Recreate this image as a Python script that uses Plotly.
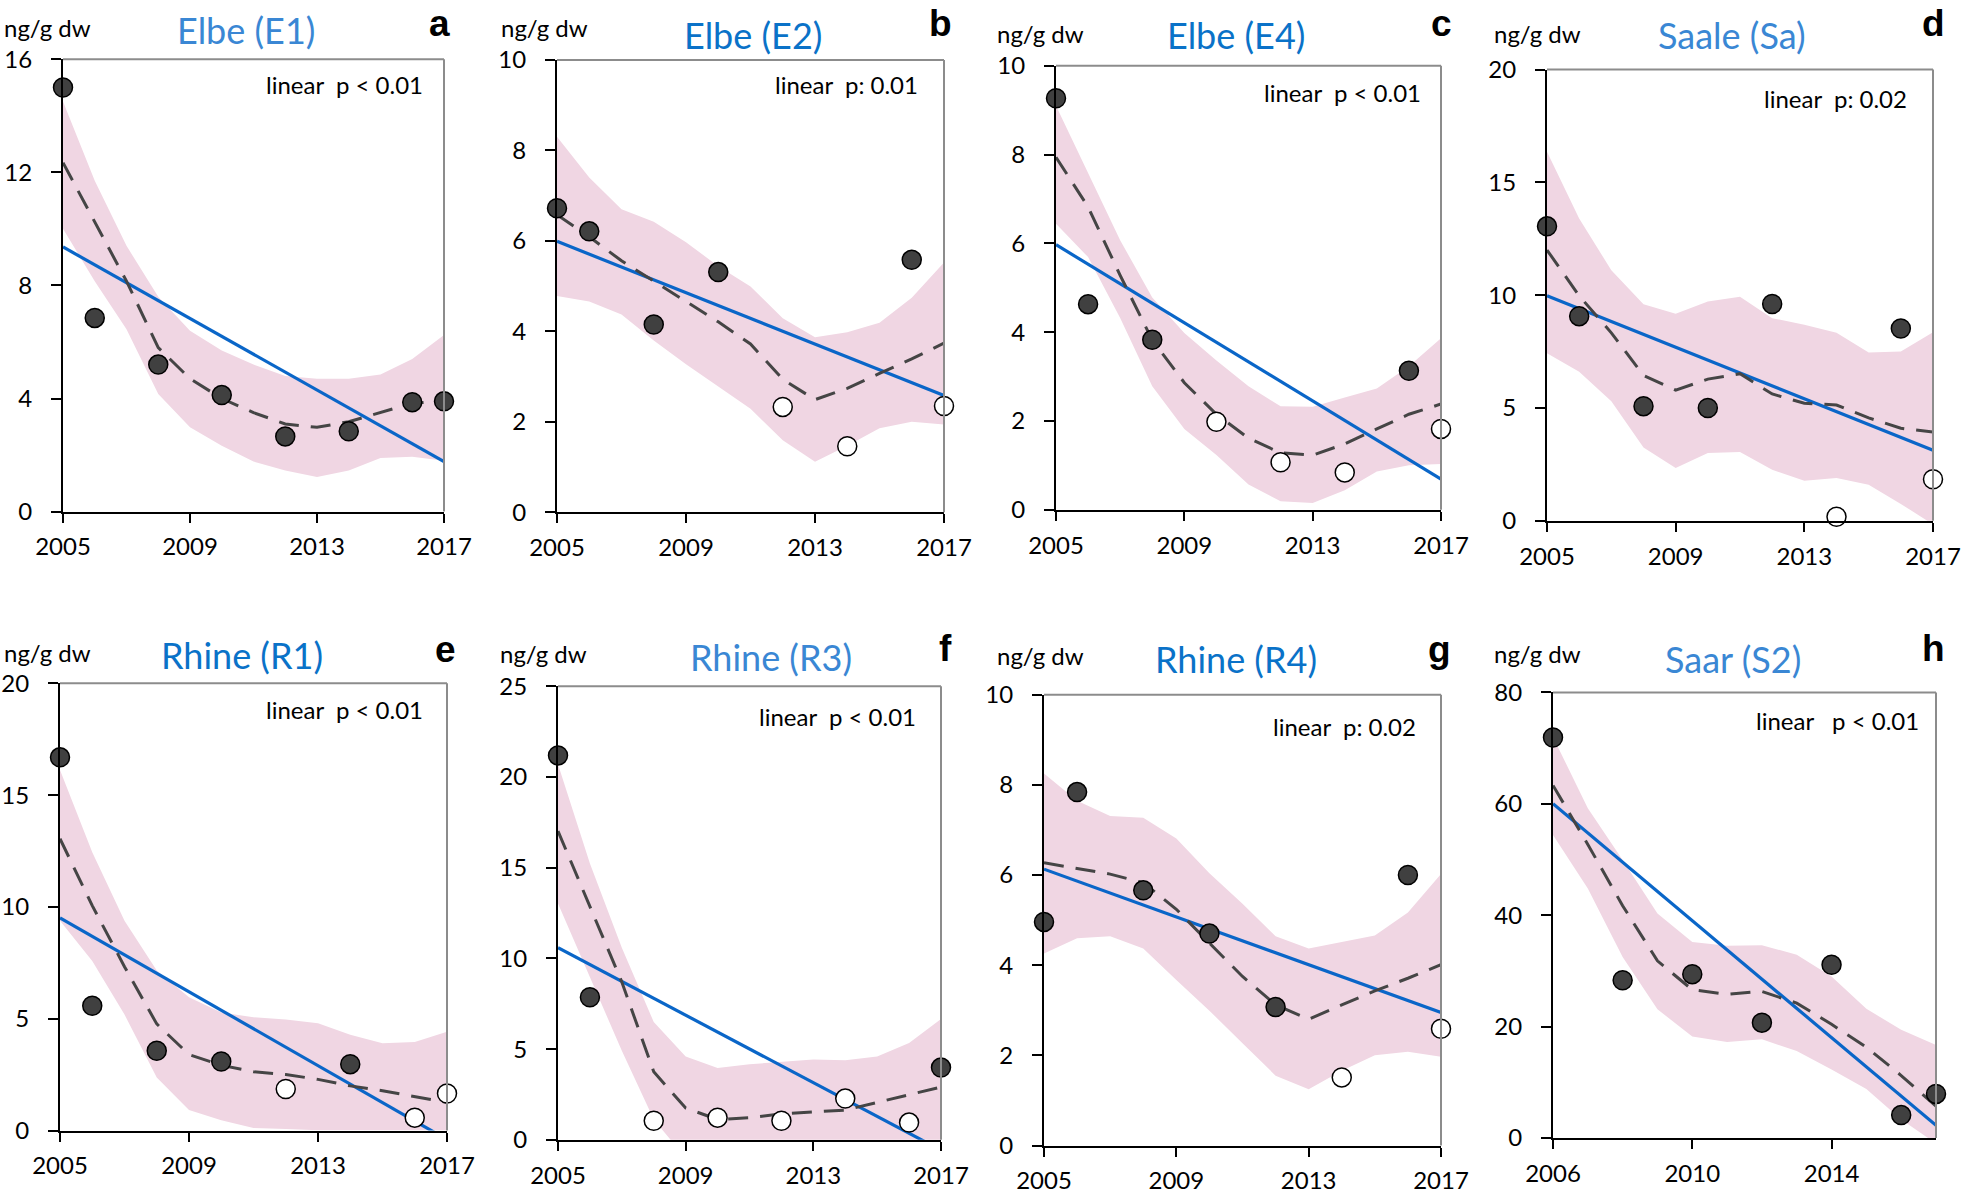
import plotly.graph_objects as go

W, H = 1961, 1199
FONT = "Lato"

# ---------------- data ----------------
years_05 = [2005, 2006, 2007, 2008, 2009, 2010, 2011, 2012, 2013, 2014, 2015, 2016, 2017]
years_06 = [2006, 2007, 2008, 2009, 2010, 2011, 2012, 2013, 2014, 2015, 2016, 2017]
obs_years_05 = [2005, 2006, 2008, 2010, 2012, 2014, 2016, 2017]
obs_years_06 = [2006, 2008, 2010, 2012, 2014, 2016, 2017]

titles = ["Elbe (E1)", "Elbe (E2)", "Elbe (E4)", "Saale (Sa)",
          "Rhine (R1)", "Rhine (R3)", "Rhine (R4)", "Saar (S2)"]
letters = ["a", "b", "c", "d", "e", "f", "g", "h"]
ptext = ["linear\u00a0\u00a0p < 0.01", "linear\u00a0\u00a0p: 0.01", "linear\u00a0\u00a0p < 0.01",
         "linear\u00a0\u00a0p: 0.02", "linear\u00a0\u00a0p < 0.01", "linear\u00a0\u00a0p < 0.01",
         "linear\u00a0\u00a0p: 0.02", "linear\u00a0\u00a0\u00a0p < 0.01"]

# observed values (True = detected / filled, False = below LOQ / open)
obs_a = [15.0, 6.85, 5.2, 4.12, 2.66, 2.84, 3.87, 3.9]
det_a = [True, True, True, True, True, True, True, True]
obs_b = [6.72, 6.21, 4.15, 5.31, 2.33, 1.46, 5.58, 2.35]
det_b = [True, True, True, True, False, False, True, False]
obs_c = [9.27, 4.63, 3.83, 1.98, 1.07, 0.84, 3.13, 1.82]
det_c = [True, True, True, False, False, False, True, False]
obs_d = [13.05, 9.07, 5.08, 5.0, 9.61, 0.18, 8.52, 1.84]
det_d = [True, True, True, True, True, False, True, False]
obs_e = [16.69, 5.58, 3.57, 3.09, 1.86, 2.97, 0.58, 1.66]
det_e = [True, True, True, True, False, True, False, False]
obs_f = [21.19, 7.86, 1.05, 1.22, 1.05, 2.27, 0.95, 3.98]
det_f = [True, True, False, False, False, False, False, True]
obs_g = [4.96, 7.84, 5.66, 4.7, 3.07, 1.51, 6.0, 2.59]
det_g = [True, True, True, True, True, False, True, False]
obs_h = [71.9, 28.3, 29.4, 20.7, 31.1, 4.1, 7.9]
det_h = [True, True, True, True, True, True, True]

# smoothed trend (dashed) and its confidence band
smooth_a = [12.34, 10.25, 8.15, 5.8, 4.7, 4.0, 3.5, 3.1, 2.98, 3.18, 3.5, 3.83, 3.9]
upper_a = [14.5, 11.7, 9.4, 7.6, 6.4, 5.7, 5.2, 4.8, 4.7, 4.7, 4.85, 5.4, 6.25]
lower_a = [10.0, 8.15, 6.45, 4.16, 2.98, 2.33, 1.77, 1.45, 1.22, 1.45, 1.9, 1.94, 1.8]

smooth_b = [6.58, 6.09, 5.56, 5.11, 4.66, 4.21, 3.72, 2.94, 2.49, 2.74, 3.07, 3.39, 3.74]
upper_b = [8.3, 7.4, 6.7, 6.42, 5.97, 5.44, 4.99, 4.29, 3.87, 3.98, 4.19, 4.74, 5.52]
lower_b = [4.78, 4.66, 4.37, 3.8, 3.27, 2.78, 2.29, 1.59, 1.12, 1.47, 1.86, 2.0, 1.94]

smooth_c = [7.94, 6.82, 5.28, 3.82, 2.86, 2.15, 1.61, 1.28, 1.23, 1.48, 1.82, 2.15, 2.38]
upper_c = [9.1, 7.57, 6.07, 4.78, 3.98, 3.36, 2.78, 2.33, 2.32, 2.53, 2.73, 3.23, 3.86]
lower_c = [6.44, 5.69, 4.32, 2.78, 1.82, 1.23, 0.57, 0.19, 0.15, 0.44, 0.86, 1.0, 1.03]

smooth_d = [12.0, 9.97, 8.33, 6.44, 5.79, 6.28, 6.52, 5.62, 5.21, 5.13, 4.56, 4.1, 3.93]
upper_d = [16.36, 13.4, 11.1, 9.6, 9.18, 9.72, 9.93, 8.98, 8.69, 8.33, 7.46, 7.5, 8.36]
lower_d = [7.43, 6.61, 5.3, 3.25, 2.34, 3.0, 3.05, 2.26, 1.77, 1.9, 1.6, 0.75, -0.16]

smooth_e = [13.05, 10.06, 7.33, 4.77, 3.4, 2.92, 2.63, 2.51, 2.29, 2.0, 1.78, 1.52, 1.26]
upper_e = [16.12, 12.45, 9.38, 7.16, 5.96, 5.28, 5.07, 4.97, 4.8, 4.29, 3.91, 3.96, 4.42]
lower_e = [9.38, 7.58, 5.19, 2.37, 0.92, 0.46, 0.12, 0.07, 0.02, 0.0, 0.0, 0.0, 0.0]

smooth_f = [17.02, 12.91, 8.7, 3.75, 1.75, 1.12, 1.22, 1.43, 1.54, 1.64, 2.06, 2.49, 2.91]
upper_f = [20.7, 15.23, 10.59, 6.49, 4.59, 3.96, 4.17, 4.28, 4.42, 4.38, 4.59, 5.33, 6.66]
lower_f = [13.02, 9.01, 4.91, 1.12, -1.0, -0.5, -0.5, -0.5, -0.5, -0.5, -0.5, -0.5, -0.5]

smooth_g = [6.27, 6.15, 6.02, 5.83, 5.24, 4.49, 3.75, 3.12, 2.8, 3.12, 3.43, 3.71, 4.01]
upper_g = [8.25, 7.65, 7.31, 7.27, 6.81, 6.04, 5.36, 4.64, 4.37, 4.52, 4.66, 5.17, 6.02]
lower_g = [4.26, 4.6, 4.64, 4.37, 3.67, 2.99, 2.27, 1.55, 1.25, 1.66, 2.0, 2.08, 1.97]

smooth_h = [63.3, 52.7, 41.7, 31.8, 26.6, 25.8, 26.3, 24.2, 20.4, 16.3, 11.2, 5.7]
upper_h = [72.0, 59.2, 49.9, 40.3, 35.2, 34.5, 34.6, 32.9, 29.0, 23.2, 19.4, 16.7]
lower_h = [54.4, 44.8, 32.5, 23.1, 18.2, 17.2, 17.7, 15.6, 12.3, 8.8, 3.3, -1.0]

# linear regression line end points (first year, last year)
lin_a = [9.36, 1.77]
lin_b = [5.99, 2.58]
lin_c = [5.97, 0.69]
lin_d = [9.97, 3.13]
lin_e = [9.51, -0.40]
lin_f = [10.59, -0.57]
lin_g = [6.13, 2.95]
lin_h = [60.0, 2.26]

y_max = [16, 10, 10, 20, 20, 25, 10, 80]
y_dtick = [4, 2, 2, 5, 5, 5, 2, 20]
x_ticks_05 = [2005, 2009, 2013, 2017]
x_ticks_06 = [2006, 2010, 2014]

panels = [
    (obs_a, det_a, smooth_a, upper_a, lower_a, lin_a),
    (obs_b, det_b, smooth_b, upper_b, lower_b, lin_b),
    (obs_c, det_c, smooth_c, upper_c, lower_c, lin_c),
    (obs_d, det_d, smooth_d, upper_d, lower_d, lin_d),
    (obs_e, det_e, smooth_e, upper_e, lower_e, lin_e),
    (obs_f, det_f, smooth_f, upper_f, lower_f, lin_f),
    (obs_g, det_g, smooth_g, upper_g, lower_g, lin_g),
    (obs_h, det_h, smooth_h, upper_h, lower_h, lin_h),
]

# ---------------- layout geometry (pixel boxes of plot areas) ----------------
boxes = [
    (63, 444, 59.2, 511.6), (557, 944, 59.9, 512.3), (1056, 1441, 65.8, 509.7), (1547, 1933, 69.5, 520.8),
    (60, 447, 683.3, 1130.6), (558, 941, 686.3, 1139.8), (1044, 1441, 694.7, 1145.5), (1553, 1936, 692.4, 1137.9),
]
title_pos = [(246, 29.6), (753, 35), (1236, 35), (1732, 35), (242, 655), (771, 657), (1236, 659), (1733, 659)]
title_col = ["#3a87d4", "#0a72c8", "#0a72c8", "#3a87d4", "#0a72c8", "#3a87d4", "#0a72c8", "#3a87d4"]
letter_pos = [(439, 24), (940, 24), (1441, 24), (1933, 24), (445, 649), (945, 648), (1439, 649), (1933, 648)]
unit_pos = [(2, 28), (499, 28), (995, 33), (1492, 33), (2, 652), (498, 653), (995, 655), (1492, 653)]
ptext_pos = [(425, 85), (920, 85), (1423, 92.5), (1909, 99), (425, 709), (918, 716.5), (1418, 726), (1921, 720)]

BAND = "#f0d6e3"
BLUE = "#0a66c8"
DARK = "#404040"

fig = go.Figure()
layout = dict(width=W, height=H, margin=dict(l=0, r=0, t=0, b=0, pad=0, autoexpand=False),
              paper_bgcolor="white", plot_bgcolor="white", showlegend=False,
              font=dict(family=FONT, color="black"))
annotations = []
shapes = []

for i, (obs, det, sm, up, lo, lin) in enumerate(panels):
    n = i + 1
    xa = "x" if n == 1 else f"x{n}"
    ya = "y" if n == 1 else f"y{n}"
    x0, x1, y0, y1 = boxes[i]
    yrs = years_06 if i == 7 else years_05
    oyrs = obs_years_06 if i == 7 else obs_years_05
    # band
    fig.add_trace(go.Scatter(x=yrs + yrs[::-1], y=up + lo[::-1], fill="toself",
                             fillcolor=BAND, line=dict(width=0), mode="lines",
                             hoverinfo="skip", xaxis=xa, yaxis=ya))
    # linear trend
    fig.add_trace(go.Scatter(x=[yrs[0], yrs[-1]], y=lin, mode="lines",
                             line=dict(color=BLUE, width=3.2), xaxis=xa, yaxis=ya))
    # smooth dashed
    fig.add_trace(go.Scatter(x=yrs, y=sm, mode="lines",
                             line=dict(color="#454545", width=3, dash="20px,12px"),
                             xaxis=xa, yaxis=ya))
    # markers
    fills = [DARK if d else "white" for d in det]
    fig.add_trace(go.Scatter(x=oyrs, y=obs, mode="markers", cliponaxis=False,
                             marker=dict(size=19, color=fills, line=dict(color="black", width=1.5)),
                             xaxis=xa, yaxis=ya))

    xd = [x0 / W, x1 / W]
    yd = [1 - y1 / H, 1 - y0 / H]
    xr = [2006, 2017] if i == 7 else [2005, 2017]
    xt = x_ticks_06 if i == 7 else x_ticks_05
    axis_font = dict(family=FONT, size=24, color="black")
    layout["xaxis" if n == 1 else f"xaxis{n}"] = dict(
        domain=xd, range=xr, anchor=ya, tickvals=xt, ticktext=[str(v) for v in xt],
        showline=True, linecolor="black", linewidth=2, ticks="outside", ticklen=9,
        tickwidth=2, tickcolor="black", showgrid=False, zeroline=False, automargin=False,
        tickfont=axis_font, ticklabelstandoff=4, fixedrange=True)
    layout["yaxis" if n == 1 else f"yaxis{n}"] = dict(
        domain=yd, range=[0, y_max[i]], anchor=xa, dtick=y_dtick[i], tick0=0,
        showline=True, linecolor="black", linewidth=2, ticks="outside", ticklen=10,
        tickwidth=2, tickcolor="black", showgrid=False, zeroline=False, automargin=False,
        tickfont=axis_font, ticklabelstandoff=14, fixedrange=True)
    # top & right grey frame
    shapes.append(dict(type="line", xref="paper", yref="paper",
                       x0=x0 / W, x1=x1 / W, y0=1 - y0 / H, y1=1 - y0 / H,
                       line=dict(color="#8c8c8c", width=2)))
    shapes.append(dict(type="line", xref="paper", yref="paper",
                       x0=x1 / W, x1=x1 / W, y0=1 - y0 / H, y1=1 - y1 / H,
                       line=dict(color="#8c8c8c", width=2)))

    tx, ty = title_pos[i]
    annotations.append(dict(text=titles[i], x=tx / W, y=1 - ty / H, xref="paper", yref="paper",
                            xanchor="center", yanchor="middle", showarrow=False,
                            font=dict(family=FONT, size=36, color=title_col[i])))
    lx, ly = letter_pos[i]
    annotations.append(dict(text="<b>" + letters[i] + "</b>", x=lx / W, y=1 - ly / H,
                            xref="paper", yref="paper", xanchor="center", yanchor="middle",
                            showarrow=False,
                            font=dict(family="Liberation Sans", size=37, color="black")))
    ux, uy = unit_pos[i]
    annotations.append(dict(text="ng/g dw", x=ux / W, y=1 - uy / H, xref="paper", yref="paper",
                            xanchor="left", yanchor="middle", showarrow=False,
                            font=dict(family=FONT, size=24, color="black")))
    px, py = ptext_pos[i]
    annotations.append(dict(text=ptext[i], x=px / W, y=1 - py / H, xref="paper", yref="paper",
                            xanchor="right", yanchor="middle", showarrow=False,
                            font=dict(family=FONT, size=24, color="black")))

layout["annotations"] = annotations
layout["shapes"] = shapes
fig.update_layout(**layout)
fig.write_html("out.html", config={"displayModeBar": False, "staticPlot": True},
               post_script="document.body.style.margin='0px';document.body.style.overflow='hidden';")
